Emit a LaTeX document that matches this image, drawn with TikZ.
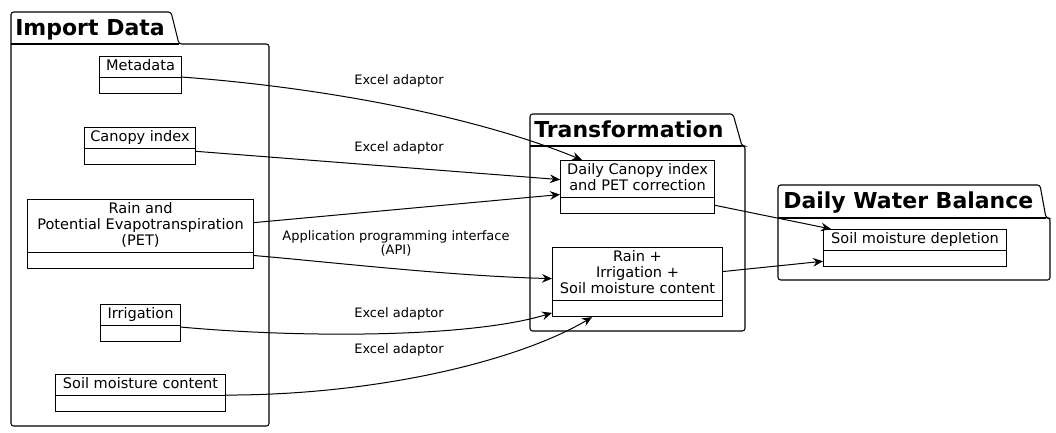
\documentclass[tikz,border=0pt]{standalone}
\usepackage{fontspec}
\setmainfont{DejaVu Sans}
\usetikzlibrary{positioning, arrows.meta, shapes.multipart}
\tikzstyle{umlclass} = [draw, line width=0.8pt, rectangle split, rectangle split parts=2, anchor=north west, align=center, font=\fontsize{10.9}{12}\selectfont, inner xsep=2pt, inner ysep=1.3pt, rectangle split empty part height=9pt]
\tikzstyle{pkg} = [draw, line width=0.8pt, rounded corners=2pt]
\tikzstyle{pkgtitle} = [anchor=base west, inner sep=0pt, font=\bfseries\fontsize{16.5}{18}\selectfont]
\tikzstyle{lbl} = [inner sep=0pt, align=center, font=\fontsize{9.75}{10.5}\selectfont]
\tikzstyle{flow} = [line width=0.75pt, -{Stealth[length=7.5pt, width=6.5pt, inset=2.5pt]}]

\begin{document}
\begin{tikzpicture}[x=0.75pt, y=-0.75pt]
      \useasboundingbox (0,0) rectangle (1056,432);
      % packages
      \draw[pkg] (11,44) -- (11,12) -- (171,12) -- (179,44) -- (269,44) -- (269,426) -- (11,426) -- cycle;
      \draw[line width=0.8pt] (11,44) -- (179,44);
      \node[pkgtitle] (tImport) at (15,35) {Import Data};
      \draw[pkg] (530,146) -- (530,114) -- (733,114) -- (742,146) -- (745,146) -- (745,331) -- (530,331) -- cycle;
      \draw[line width=0.8pt] (530,146) -- (742,146);
      \node[pkgtitle] (tTrans) at (534,137) {Transformation};
      \draw[pkg] (778,218) -- (778,185) -- (1040,185) -- (1046,218) -- (1050,218) -- (1050,280) -- (778,280) -- cycle;
      \draw[line width=0.8pt] (778,218) -- (1046,218);
      \node[pkgtitle] (tBalance) at (783,208) {Daily Water Balance};

      % import data
      \node[umlclass, minimum width=61.5pt] (meta) at (99,56) {\strut Metadata \nodepart{two}};
      \node[umlclass, minimum width=83.25pt] (cidx) at (84,127) {\strut Canopy index \nodepart{two}};
      \node[umlclass, minimum width=169.5pt] (rpet) at (27,199) {\strut Rain and\\ Potential Evapotranspiration\\ (PET)\strut \nodepart{two}};
      \node[umlclass, minimum width=60pt] (irr) at (100,304) {\strut Irrigation \nodepart{two}};
      \node[umlclass, minimum width=127.5pt] (smc) at (55,374) {\strut Soil moisture content \nodepart{two}};

      % transformation
      \node[umlclass, minimum width=115.5pt] (dci) at (560,160) {\strut Daily Canopy index\\ and PET correction\strut \nodepart{two}};
      \node[umlclass, minimum width=127.5pt] (rirr) at (552,247) {\strut Rain +\\ Irrigation +\\ Soil moisture content\strut \nodepart{two}};

      % daily water balance
      \node[umlclass, minimum width=137.25pt] (smd) at (823,229) {\strut Soil moisture depletion \nodepart{two}};

      % connectors
      \draw[flow] (meta.text split east) .. controls (330,88) and (480,118) .. ([xshift=16.5pt]dci.north west);
      \draw[flow] ([yshift=3.75pt]cidx.two east) -- ([yshift=5.6pt]dci.west);
      \draw[flow] ([yshift=8.6pt]rpet.east) -- ([yshift=-5.6pt]dci.west);
      \draw[flow] ([yshift=-16.1pt]rpet.east) .. controls (330,262) and (450,276) .. ([yshift=2.6pt]rirr.west);
      \draw[flow] ([yshift=-1.5pt]irr.text split east) .. controls (300,338) and (470,338) .. ([yshift=-3.4pt]rirr.two west);
      \draw[flow] (smc.text split east) .. controls (380,395) and (520,360) .. ([xshift=30pt]rirr.south west);
      \draw[flow] (dci.two east) -- ([xshift=6pt]smd.north west);
      \draw[flow] ([yshift=7.9pt]rirr.east) -- ([yshift=-2.2pt]smd.two west);

      % labels
      \node[lbl] (l1) at (399,81) {Excel adaptor};
      \node[lbl] (l2) at (399,148) {Excel adaptor};
      \node[lbl] (l3) at (396,243) {Application programming interface\\ (API)};
      \node[lbl] (l4) at (399,314) {Excel adaptor};
      \node[lbl] (l5) at (399,350) {Excel adaptor};
    \end{tikzpicture}
\end{document}
